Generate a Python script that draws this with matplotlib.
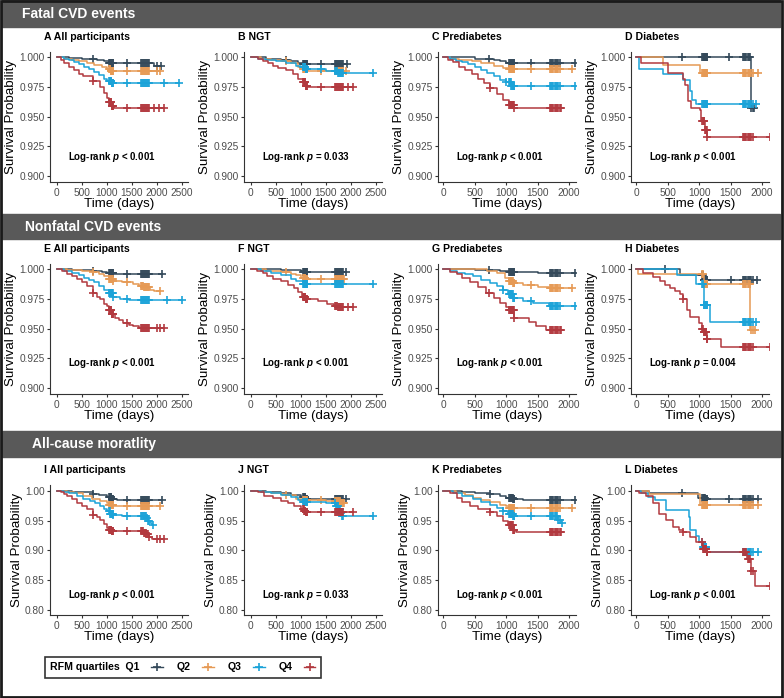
import numpy as np
import matplotlib
matplotlib.use('Agg')
import matplotlib.pyplot as plt
from matplotlib.patches import Rectangle
from matplotlib.lines import Line2D

plt.rcParams['font.family'] = ['Liberation Sans', 'DejaVu Sans']
plt.rcParams['mathtext.fontset'] = 'custom'
plt.rcParams['mathtext.rm'] = 'Liberation Sans'
plt.rcParams['mathtext.it'] = 'Liberation Sans:italic'
plt.rcParams['mathtext.bf'] = 'Liberation Sans:bold'
plt.rcParams['mathtext.bfit'] = 'Liberation Sans:bold:italic'

# ---- data -------------------------------------------------------------
quartiles = ['Q1', 'Q2', 'Q3', 'Q4']
colors = ['#34495A', '#E69A55', '#1BA3D8', '#B2393F']

sections = ['Fatal CVD events', 'Nonfatal CVD events', 'All-cause moratlity']
panel_titles = ['A All participants', 'B NGT', 'C Prediabetes', 'D Diabetes',
                'E All participants', 'F NGT', 'G Prediabetes', 'H Diabetes',
                'I All participants', 'J NGT', 'K Prediabetes', 'L Diabetes']
p_texts = ['< 0.001', '= 0.033', '< 0.001', '< 0.001',
           '< 0.001', '< 0.001', '< 0.001', '= 0.004',
           '< 0.001', '= 0.033', '< 0.001', '< 0.001']
x_max = [2500, 2500, 2000, 2000]

# censoring clusters at the follow-up visits (days)
visit1 = [1050, 1060, 1070, 1080, 1090, 1100, 1110, 1120, 1130]
visit2 = [1690, 1710, 1730, 1750, 1770, 1790, 1810, 1830, 1850]

# Kaplan-Meier steps (time, survival) per quartile, and extra censor times
steps_a = [
    [(0, 1.0), (250, .9993), (500, .9985), (800, .9975), (950, .9965), (1050, .9955), (1950, .9925)],
    [(0, 1.0), (150, .999), (300, .998), (450, .9965), (600, .995), (750, .9935), (900, .992), (1000, .990), (1080, .9885)],
    [(0, 1.0), (150, .999), (250, .998), (350, .996), (450, .994), (550, .992), (650, .990), (750, .988),
     (850, .985), (950, .982), (1000, .980), (1100, .978)],
    [(0, 1.0), (80, .998), (150, .995), (250, .992), (350, .989), (450, .986), (530, .984), (730, .980),
     (870, .975), (950, .970), (1000, .966), (1050, .962), (1100, .959), (1140, .957)],
]
cens_a = [[730, 1400, 2000, 2080], [1400, 2000, 2070], [1400, 2150, 2450], [730, 1400, 1950, 2050, 2150]]

steps_b = [
    [(0, 1.0), (300, .999), (600, .998), (800, .997), (950, .9955), (1050, .994)],
    [(0, 1.0), (200, .999), (400, .998), (600, .997), (800, .995), (950, .992), (1050, .990), (1150, .9885)],
    [(0, 1.0), (150, .999), (300, .998), (500, .997), (700, .995), (900, .993), (1000, .9915), (1100, .990),
     (1500, .9885), (1750, .987)],
    [(0, 1.0), (150, .999), (250, .997), (350, .995), (450, .993), (550, .991), (700, .989), (850, .986),
     (950, .982), (1050, .979), (1100, .976), (1150, .975)],
]
cens_b = [[700, 1400, 1930], [700, 1400, 1900], [1400, 2450], [1400, 1950, 2050]]

steps_c = [
    [(0, 1.0), (500, .999), (800, .998), (900, .997), (1000, .9955), (1850, .995)],
    [(0, 1.0), (100, .999), (250, .998), (450, .997), (600, .995), (800, .993), (950, .991), (1050, .9905)],
    [(0, 1.0), (100, .999), (200, .997), (300, .996), (400, .994), (500, .992), (600, .989), (700, .987),
     (800, .984), (900, .981), (1000, .979), (1080, .976)],
    [(0, 1.0), (80, .998), (150, .996), (250, .992), (350, .989), (450, .986), (550, .982), (650, .978),
     (740, .9745), (850, .969), (950, .964), (1050, .960), (1130, .957)],
]
cens_c = [[726, 1400, 2090], [1400, 2050], [1000, 1400, 2100], [740, 1870]]

steps_d = [
    [(0, 1.0), (1830, .957)],
    [(0, 1.0), (420, .9933), (1005, .987)],
    [(0, 1.0), (50, .9905), (420, .986), (740, .981), (846, .972), (880, .964), (952, .961)],
    [(0, 1.0), (75, .9955), (500, .9865), (740, .982), (770, .977), (820, .963), (870, .9575),
     (1005, .956), (1030, .946), (1085, .939), (1122, .933)],
]
cens_d = [[729, 1468, 1870], [1936], [1910], [2123]]

steps_e = [
    [(0, 1.0), (300, .9995), (700, .999), (900, .998), (1000, .997), (1150, .996)],
    [(0, 1.0), (200, .9995), (500, .999), (730, .998), (850, .996), (950, .994), (1050, .992), (1130, .990),
     (1300, .989), (1530, .988), (1650, .986), (1750, .985), (1870, .983), (1950, .982)],
    [(0, 1.0), (150, .999), (300, .997), (450, .995), (550, .993), (650, .991), (750, .989), (850, .986),
     (950, .983), (1050, .980), (1130, .977), (1270, .975), (1450, .974)],
    [(0, 1.0), (100, .999), (200, .996), (300, .994), (400, .9915), (500, .989), (600, .986), (730, .980),
     (800, .977), (870, .975), (950, .971), (1000, .969), (1050, .966), (1100, .962), (1170, .959),
     (1250, .957), (1330, .955), (1450, .953), (1530, .952), (1650, .951)],
]
cens_e = [[730, 1400, 2100], [730, 1400, 2070], [1400, 2200, 2500], [730, 1400, 2000, 2070, 2150]]

steps_f = [
    [(0, 1.0), (600, .9995), (1000, .999), (1050, .998), (1200, .9975)],
    [(0, 1.0), (300, .999), (600, .998), (800, .996), (900, .995), (1000, .993), (1100, .992), (1500, .9915)],
    [(0, 1.0), (200, .999), (400, .997), (600, .995), (800, .992), (900, .990), (1050, .988), (1100, .9875)],
    [(0, 1.0), (130, .999), (250, .997), (330, .994), (450, .992), (600, .990), (750, .987), (870, .984),
     (950, .981), (1030, .977), (1100, .975), (1350, .973), (1530, .971), (1670, .969), (1750, .968)],
]
cens_f = [[1900], [700, 1400, 1870], [2450], [1950, 2050]]

steps_g = [
    [(0, 1.0), (500, .9995), (900, .999), (1050, .998), (1500, .9965)],
    [(0, 1.0), (700, .999), (850, .997), (975, .993), (1050, .990), (1105, .9887), (1263, .9865),
     (1500, .985), (1684, .9845)],
    [(0, 1.0), (100, .999), (210, .997), (350, .996), (470, .994), (600, .991), (737, .9887), (850, .986),
     (947, .9825), (1030, .979), (1105, .976), (1263, .9732), (1420, .9718), (1684, .9695)],
    [(0, 1.0), (100, .998), (210, .996), (300, .993), (420, .989), (550, .985), (684, .980), (800, .976),
     (895, .972), (1000, .968), (1050, .966), (1130, .959), (1370, .956), (1475, .952), (1630, .949)],
]
cens_g = [[720, 2100], [1400, 2050], [950, 1400, 2100], [720, 1870]]

steps_h = [
    [(0, 1.0), (690, .9955), (1070, .991)],
    [(0, 1.0), (20, .9958), (1070, .9875), (1813, .949)],
    [(0, 1.0), (650, .9955), (950, .9875), (1070, .970), (1170, .9555)],
    [(0, 1.0), (107, .997), (267, .9938), (373, .990), (450, .987), (533, .9845), (620, .982), (693, .979),
     (747, .9746), (800, .966), (853, .960), (1000, .955), (1040, .950), (1067, .947), (1120, .941),
     (1350, .935)],
]
cens_h = [[450, 1500, 1920], [1880], [1900], [750, 2130]]

steps_i = [
    [(0, 1.0), (300, .999), (500, .998), (730, .9955), (850, .993), (1000, .989), (1100, .986), (1200, .985)],
    [(0, 1.0), (200, .998), (350, .996), (530, .9915), (700, .987), (870, .983), (1000, .979), (1050, .977),
     (1150, .9745)],
    [(0, 1.0), (150, .998), (250, .996), (400, .9915), (530, .987), (670, .983), (770, .979), (870, .9745),
     (950, .970), (1000, .966), (1070, .962), (1130, .960), (1300, .958), (1800, .954), (1830, .950),
     (1870, .946), (1900, .942)],
    [(0, 1.0), (80, .998), (150, .995), (200, .991), (300, .986), (400, .980), (500, .975), (600, .969),
     (730, .960), (800, .956), (870, .952), (950, .945), (1000, .938), (1050, .935), (1100, .933),
     (1750, .930), (1800, .927), (1850, .923), (1900, .920)],
]
cens_i = [[730, 1400, 2100], [1400, 2070], [1400, 1920], [730, 1400, 2000, 2070, 2150]]

steps_j = [
    [(0, 1.0), (300, .999), (600, .997), (800, .994), (1000, .989), (1100, .986)],
    [(0, 1.0), (200, .999), (400, .997), (600, .995), (700, .993), (900, .987), (1050, .984), (1500, .983),
     (1800, .980)],
    [(0, 1.0), (200, .999), (400, .996), (600, .993), (800, .989), (950, .985), (1050, .981), (1500, .980),
     (1700, .975), (1760, .970), (1800, .963), (1830, .958)],
    [(0, 1.0), (150, .998), (270, .9915), (450, .988), (600, .983), (750, .979), (870, .9745), (1000, .969),
     (1070, .966), (1100, .964)],
]
cens_j = [[1900], [700, 1400, 1870], [2450], [1400, 2050]]

steps_k = [
    [(0, 1.0), (300, .999), (500, .997), (737, .9943), (900, .991), (1000, .988), (1105, .9858), (1263, .9847)],
    [(0, 1.0), (200, .997), (350, .993), (474, .9887), (600, .985), (750, .981), (895, .977), (1000, .974),
     (1050, .9717), (1150, .971)],
    [(0, 1.0), (150, .997), (300, .992), (474, .9858), (600, .981), (737, .977), (850, .972), (947, .966),
     (1030, .962), (1105, .9587), (1200, .958), (1816, .952), (1868, .9462)],
    [(0, 1.0), (100, .996), (210, .9887), (300, .982), (421, .9745), (550, .970), (737, .9643), (850, .958),
     (947, .949), (1030, .942), (1105, .935), (1150, .931)],
]
cens_k = [[737, 2100], [1400, 2050], [950, 1400, 1890], [737, 1870]]

steps_l = [
    [(0, 1.0), (207, .996), (980, .9876), (1100, .986)],
    [(0, 1.0), (200, .995), (1005, .976)],
    [(0, 1.0), (80, .996), (190, .990), (300, .984), (473, .968), (830, .956), (860, .934), (952, .925),
     (1000, .914), (1059, .906), (1112, .898)],
    [(0, 1.0), (50, .996), (154, .9915), (260, .979), (367, .962), (473, .951), (580, .9395), (686, .934),
     (740, .931), (846, .9226), (952, .914), (1059, .903), (1112, .897), (1760, .886), (1830, .866),
     (1883, .841)],
]
cens_l = [[729, 1468, 1936], [1936], [1060, 1936], [740, 2123]]

all_steps = [steps_a, steps_b, steps_c, steps_d, steps_e, steps_f,
             steps_g, steps_h, steps_i, steps_j, steps_k, steps_l]
all_cens = [cens_a, cens_b, cens_c, cens_d, cens_e, cens_f,
            cens_g, cens_h, cens_i, cens_j, cens_k, cens_l]

# ---- layout (pixels of the 784x698 canvas) ---------------------------
W, H = 784, 698
col_left = [50, 244, 438, 631]
row_top = [52, 264, 485]
ax_w, ax_h = 138, 130
band_y = [(0, 27), (214, 239), (431, 457)]
band_text_x = [22, 25, 32]

fig = plt.figure(figsize=(W / 100, H / 100), dpi=100)

for r, (y0, y1) in enumerate(band_y):
    fig.add_artist(Rectangle((2 / W, 1 - y1 / H), 778 / W, (y1 - y0) / H,
                             transform=fig.transFigure, color='#595959', zorder=0))
    fig.text(band_text_x[r] / W, 1 - (y0 + y1) / 2 / H, sections[r], color='white',
             fontsize=10, fontweight='bold', va='center', ha='left')

for i in range(12):
    r, c = divmod(i, 4)
    ax = fig.add_axes([col_left[c] / W, 1 - (row_top[r] + ax_h) / H, ax_w / W, ax_h / H])
    for q in range(4):
        t, s = map(list, zip(*all_steps[i][q]))
        end = max(all_cens[i][q])
        ax.step(t + [end], s + [s[-1]], where='post', color=colors[q], lw=1.1)
        ct = np.array(sorted(set([v for v in visit1 + visit2 if v <= end] + all_cens[i][q])))
        idx = np.searchsorted(t, ct, side='right') - 1
        ax.plot(ct, np.array(s)[idx], ls='none', marker='+', ms=5.5, mew=1.2, color=colors[q])

    if r < 2:
        ax.set_ylim(0.895, 1.0045)
        ax.set_yticks([0.900, 0.925, 0.950, 0.975, 1.000])
        ax.set_yticklabels(['0.900', '0.925', '0.950', '0.975', '1.000'])
        py = 0.19 if r == 0 else 0.235
    else:
        ax.set_ylim(0.7915, 1.01)
        ax.set_yticks([0.80, 0.85, 0.90, 0.95, 1.00])
        ax.set_yticklabels(['0.80', '0.85', '0.90', '0.95', '1.00'])
        py = 0.15
    if x_max[c] == 2500:
        ax.set_xlim(-130, 2620)
    else:
        ax.set_xlim(-85, 2110)
    ax.set_xticks(np.arange(0, x_max[c] + 1, 500))

    for sp in ['top', 'right']:
        ax.spines[sp].set_visible(False)
    for sp in ['left', 'bottom']:
        ax.spines[sp].set_color('#333333')
        ax.spines[sp].set_linewidth(0.8)
    ax.tick_params(length=2.5, width=0.8, pad=1.5, colors='#333333', labelcolor='#4D4D4D', labelsize=7.3)
    ax.set_xlabel('Time (days)', fontsize=9.6, labelpad=0.5)
    ax.set_ylabel('Survival Probability', fontsize=9.6, labelpad=1.5)
    ax.text(-0.045, 1.115, panel_titles[i], transform=ax.transAxes, fontsize=7.6,
            fontweight='bold', ha='left', va='center')
    ax.text(0.45, py, r'Log-rank $\mathbfit{p}$ ' + p_texts[i], transform=ax.transAxes,
            fontsize=7, fontweight='bold', ha='center', va='center')

handles = [Line2D([], [], color=cl, lw=1, marker='+', ms=5.5, mew=1.2) for cl in colors]
labels = ['RFM quartiles  Q1', 'Q2', 'Q3', 'Q4']
leg = fig.legend(handles, labels, loc='center left', bbox_to_anchor=(45 / W, 1 - 667.5 / H),
                 ncol=4, markerfirst=False, frameon=True, fancybox=False, edgecolor='black',
                 prop={'weight': 'bold', 'size': 7.6}, handlelength=1.1, handletextpad=1.1,
                 columnspacing=1.3, borderpad=0.5, borderaxespad=0)
leg.get_frame().set_linewidth(1.2)

fig.add_artist(Rectangle((1 / W, 1.5 / H), 780.5 / W, 696 / H, transform=fig.transFigure,
                         fill=False, ec='#1a1a1a', lw=2))

fig.savefig('out.png', dpi=100)
